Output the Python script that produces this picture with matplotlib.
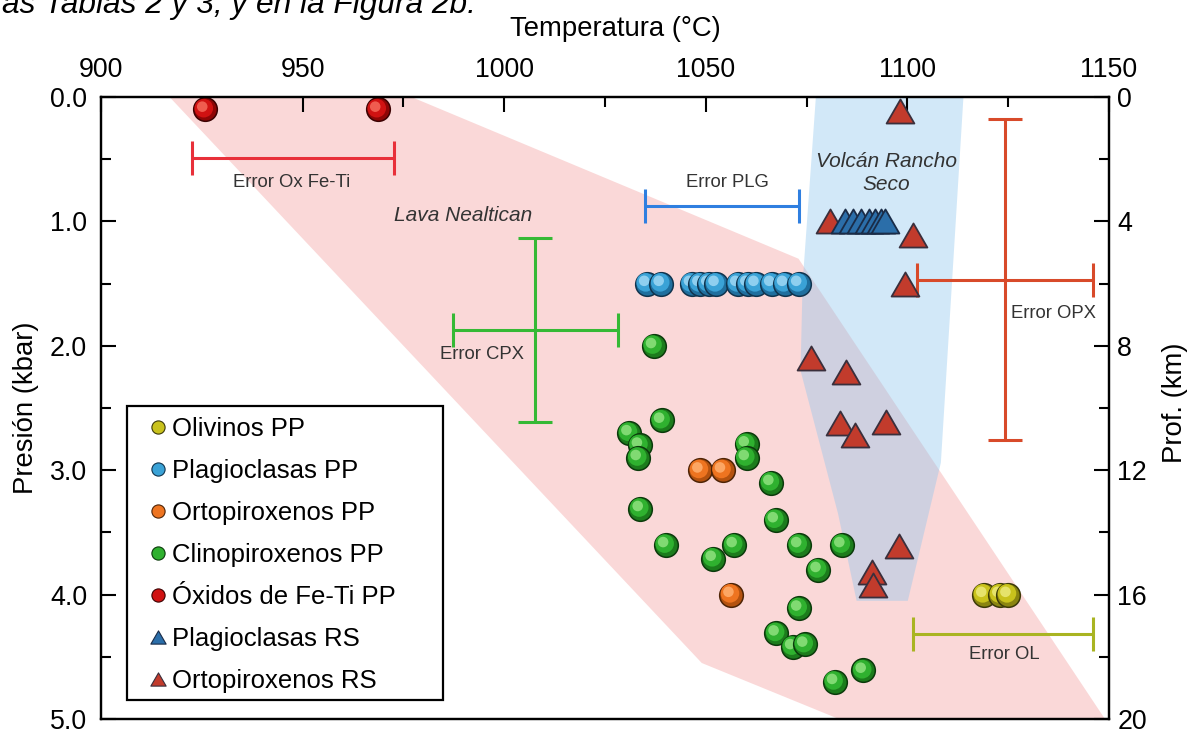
import matplotlib
matplotlib.use("Agg")
import matplotlib.pyplot as plt
from matplotlib.lines import Line2D
from matplotlib.patches import Polygon, Rectangle
from matplotlib.path import Path
from matplotlib.ticker import MultipleLocator, FormatStrFormatter
import matplotlib.transforms as mtransforms

plt.rcParams['font.family'] = ['Liberation Sans', 'DejaVu Sans']

# ---------------- data (T in °C, P in kbar) ----------------
ol_T = [1119.0, 1123.0, 1125.0]
ol_P = [4.0, 4.0, 4.0]

plg_pp_T = [1035.4, 1039.0, 1046.5, 1048.6, 1050.8, 1052.6, 1058.0, 1060.5,
            1062.5, 1066.4, 1069.6, 1073.1]
plg_pp_P = [1.5, 1.5, 1.5, 1.5, 1.5, 1.5, 1.5, 1.5, 1.5, 1.5, 1.5, 1.5]

opx_pp_T = [1048.6, 1054.2, 1056.3]
opx_pp_P = [3.0, 3.0, 4.0]

cpx_pp_T = [1037.1, 1031.0, 1039.1, 1033.6, 1033.3, 1060.1, 1060.1, 1066.2,
            1033.8, 1067.3, 1040.1, 1051.9, 1057.1, 1073.1, 1083.8, 1077.9,
            1073.1, 1067.5, 1071.6, 1074.6, 1082.0, 1089.1]
cpx_pp_P = [2.00, 2.70, 2.60, 2.80, 2.90, 2.79, 2.90, 3.10,
            3.31, 3.40, 3.60, 3.71, 3.60, 3.60, 3.60, 3.80,
            4.11, 4.31, 4.42, 4.40, 4.70, 4.61]

ox_T = [925.8, 968.7]
ox_P = [0.10, 0.10]

plg_rs_T = [1084.5, 1086.5, 1088.5, 1090.5, 1092.0, 1093.5, 1094.5]
plg_rs_P = [1.0, 1.0, 1.0, 1.0, 1.0, 1.0, 1.0]

opx_rs_T = [1098.2, 1080.8, 1101.5, 1099.4, 1076.0, 1084.8, 1083.3, 1087.1,
            1094.8, 1097.9, 1091.2, 1091.5]
opx_rs_P = [0.11, 1.00, 1.11, 1.50, 2.10, 2.21, 2.62, 2.72,
            2.61, 3.61, 3.82, 3.92]

# error bars
err_names = ['Ox Fe-Ti', 'PLG', 'CPX', 'OPX', 'OL']
err_T = [947.6, 1054.0, 1007.7, 1124.3, 1123.8]
err_P = [0.49, 0.875, 1.875, 1.47, 4.317]
err_dT = [25.0, 19.0, 20.5, 21.8, 22.3]
err_dP = [0.0, 0.0, 0.74, 1.29, 0.0]

# fields
nealtican_T = [917.0, 977.0, 1073.0, 1149.0, 1083.0, 1049.0]
nealtican_P = [0.0, 0.0, 1.3, 5.0, 5.0, 4.55]
rancho_T = [1077.3, 1074.0, 1073.5, 1082.8, 1087.4, 1100.1, 1108.3, 1113.9]
rancho_P = [0.0, 1.5, 2.2, 3.35, 4.05, 4.05, 2.94, 0.0]

legend_labels = ['Olivinos PP', 'Plagioclasas PP', 'Ortopiroxenos PP',
                 'Clinopiroxenos PP', 'Óxidos de Fe-Ti PP', 'Plagioclasas RS',
                 'Ortopiroxenos RS']

# ---------------- styles ----------------
sph = {
    'ol':  dict(base='#c9c21c', light='#ecea7a', dark='#8a8510', edge='#3c3a08'),
    'plg': dict(base='#3aa2d6', light='#9fd8f4', dark='#1f6f9e', edge='#10344e'),
    'opx': dict(base='#ee7420', light='#ffb070', dark='#b4520f', edge='#4e2406'),
    'cpx': dict(base='#2fb12f', light='#8fe27f', dark='#1c7c1c', edge='#0b3a0b'),
    'ox':  dict(base='#d01212', light='#f56a5a', dark='#8e0606', edge='#3c0202'),
}
tri_red = dict(face='#c23b2c', edge='#3a2f3c')
tri_blue = dict(face='#2b6ea9', edge='#1a2c48')
err_colors = ['#e8303a', '#2f7fe0', '#35b935', '#d84a2a', '#a9b422']

fig = plt.figure(figsize=(11.95, 7.29), dpi=100)
ax = fig.add_axes([101 / 1195, 10 / 729, 1008 / 1195, 622 / 729])
ax.set_xlim(900, 1150)
ax.set_ylim(5, 0)

# fields
ax.add_patch(Polygon(list(zip(nealtican_T, nealtican_P)), closed=True,
                     facecolor='#f08080', alpha=0.30, lw=0, zorder=1))
ax.add_patch(Polygon(list(zip(rancho_T, rancho_P)), closed=True,
                     facecolor='#8fc6ee', alpha=0.40, lw=0, zorder=1.2))

# error bars
for i in range(len(err_names)):
    ax.errorbar([err_T[i]], [err_P[i]], xerr=[err_dT[i]],
                yerr=[err_dP[i]] if err_dP[i] > 0 else None,
                fmt='none', ecolor=err_colors[i], elinewidth=2.2,
                capsize=12, capthick=2.2, zorder=2)

# spheres
S = 290


def spheres(T, P, st):
    off1 = mtransforms.offset_copy(ax.transData, fig=fig, x=-0.9, y=0.9, units='points')
    off2 = mtransforms.offset_copy(ax.transData, fig=fig, x=-2.0, y=2.0, units='points')
    for t, p in zip(T, P):
        ax.scatter([t], [p], s=S, facecolor=st['dark'], edgecolor=st['edge'],
                   linewidth=1.1, zorder=3)
        ax.scatter([t], [p], s=S * 0.62, facecolor=st['base'], edgecolor='none',
                   transform=off1, zorder=3)
        ax.scatter([t], [p], s=S * 0.20, facecolor=st['light'], edgecolor='none',
                   alpha=0.85, transform=off2, zorder=3)


tri_path = Path([(-1.0, -0.866), (1.0, -0.866), (0.0, 0.866), (-1.0, -0.866)],
                [Path.MOVETO, Path.LINETO, Path.LINETO, Path.CLOSEPOLY])

spheres(ol_T, ol_P, sph['ol'])
spheres(plg_pp_T, plg_pp_P, sph['plg'])
spheres(opx_pp_T, opx_pp_P, sph['opx'])
spheres(cpx_pp_T, cpx_pp_P, sph['cpx'])
spheres(ox_T, ox_P, sph['ox'])

ax.scatter(opx_rs_T, opx_rs_P, s=400, marker=tri_path, facecolor=tri_red['face'],
           edgecolor=tri_red['edge'], linewidth=1.3, zorder=4)
ax.scatter(plg_rs_T, plg_rs_P, s=400, marker=tri_path, facecolor=tri_blue['face'],
           edgecolor=tri_blue['edge'], linewidth=1.3, zorder=4)

# annotations
tc = '#333333'
ax.text(947.4, 0.69, 'Error Ox Fe-Ti', fontsize=13.3, color=tc, ha='center', va='center', zorder=5)
ax.text(1055.3, 0.69, 'Error PLG', fontsize=13.3, color=tc, ha='center', va='center', zorder=5)
ax.text(994.4, 2.066, 'Error CPX', fontsize=13.3, color=tc, ha='center', va='center', zorder=5)
ax.text(1136.2, 1.74, 'Error OPX', fontsize=13.3, color=tc, ha='center', va='center', zorder=5)
ax.text(1124.1, 4.485, 'Error OL', fontsize=13.3, color=tc, ha='center', va='center', zorder=5)
ax.text(989.7, 0.954, 'Lava Nealtican', fontsize=15, style='italic', color=tc,
        ha='center', va='center', zorder=5)
ax.text(1094.7, 0.61, 'Volcán Rancho\nSeco', fontsize=15, style='italic', color=tc,
        ha='center', va='center', linespacing=1.3, zorder=5)

# axes styling
for sp in ax.spines.values():
    sp.set_linewidth(1.6)
ax.xaxis.tick_top()
ax.xaxis.set_major_locator(MultipleLocator(50))
ax.xaxis.set_minor_locator(MultipleLocator(25))
ax.yaxis.set_major_locator(MultipleLocator(1))
ax.yaxis.set_minor_locator(MultipleLocator(0.5))
ax.yaxis.set_major_formatter(FormatStrFormatter('%.1f'))
ax.tick_params(axis='both', which='both', direction='in', width=1.5,
               bottom=False, labelbottom=False, top=True, labeltop=True,
               left=True, right=False, labelsize=19.3)
ax.tick_params(axis='both', which='major', length=10.5)
ax.tick_params(axis='both', which='minor', length=7)
ax.tick_params(axis='x', pad=10)
ax.tick_params(axis='y', pad=10)

ax2 = ax.twinx()
ax2.set_ylim(20, 0)
ax2.yaxis.set_major_locator(MultipleLocator(4))
ax2.yaxis.set_minor_locator(MultipleLocator(2))
ax2.tick_params(axis='y', which='both', direction='in', width=1.5, labelsize=19.3, pad=6)
ax2.tick_params(axis='y', which='major', length=10.5)
ax2.tick_params(axis='y', which='minor', length=7)
for sp in ax2.spines.values():
    sp.set_linewidth(1.6)

# labels
fig.text(615 / 1195, 1 - 29 / 729, 'Temperatura (°C)', fontsize=19.8,
         ha='center', va='center')
fig.text(26 / 1195, 1 - 408 / 729, 'Presión (kbar)', fontsize=19.8,
         rotation=90, ha='center', va='center')
fig.text(1175 / 1195, 1 - 403 / 729, 'Prof. (km)', fontsize=19.8,
         rotation=90, ha='center', va='center')

# clipped caption line from the document
fig.text(0.002, 1 - 13 / 729, 'as Tablas 2 y 3, y en la Figura 2b.', fontsize=22.8,
         style='italic', ha='left', va='baseline')

# legend
handles = [
    Line2D([], [], ls='none', marker='o', ms=9.5, mfc=sph['ol']['base'], mec=sph['ol']['edge'], mew=0.8),
    Line2D([], [], ls='none', marker='o', ms=9.5, mfc=sph['plg']['base'], mec=sph['plg']['edge'], mew=0.8),
    Line2D([], [], ls='none', marker='o', ms=9.5, mfc=sph['opx']['base'], mec=sph['opx']['edge'], mew=0.8),
    Line2D([], [], ls='none', marker='o', ms=9.5, mfc=sph['cpx']['base'], mec=sph['cpx']['edge'], mew=0.8),
    Line2D([], [], ls='none', marker='o', ms=9.5, mfc=sph['ox']['base'], mec=sph['ox']['edge'], mew=0.8),
    Line2D([], [], ls='none', marker=tri_path, ms=11, mfc=tri_blue['face'], mec=tri_blue['edge'], mew=0.8),
    Line2D([], [], ls='none', marker=tri_path, ms=11, mfc=tri_red['face'], mec=tri_red['edge'], mew=0.8),
]
ax.add_patch(Rectangle((26 / 1008, 19 / 622), 316 / 1008, 294 / 622, transform=ax.transAxes,
                       facecolor='white', edgecolor='black', lw=1.6, zorder=6))
leg = ax.legend(handles, legend_labels, loc='upper left',
                bbox_to_anchor=(44 / 1008, (719 - 417) / 622), frameon=False,
                fontsize=18.5, handlelength=1.0, handletextpad=0.05,
                labelspacing=0.70, borderpad=0, borderaxespad=0)
leg.set_zorder(7)

fig.savefig('out.png', dpi=100)
